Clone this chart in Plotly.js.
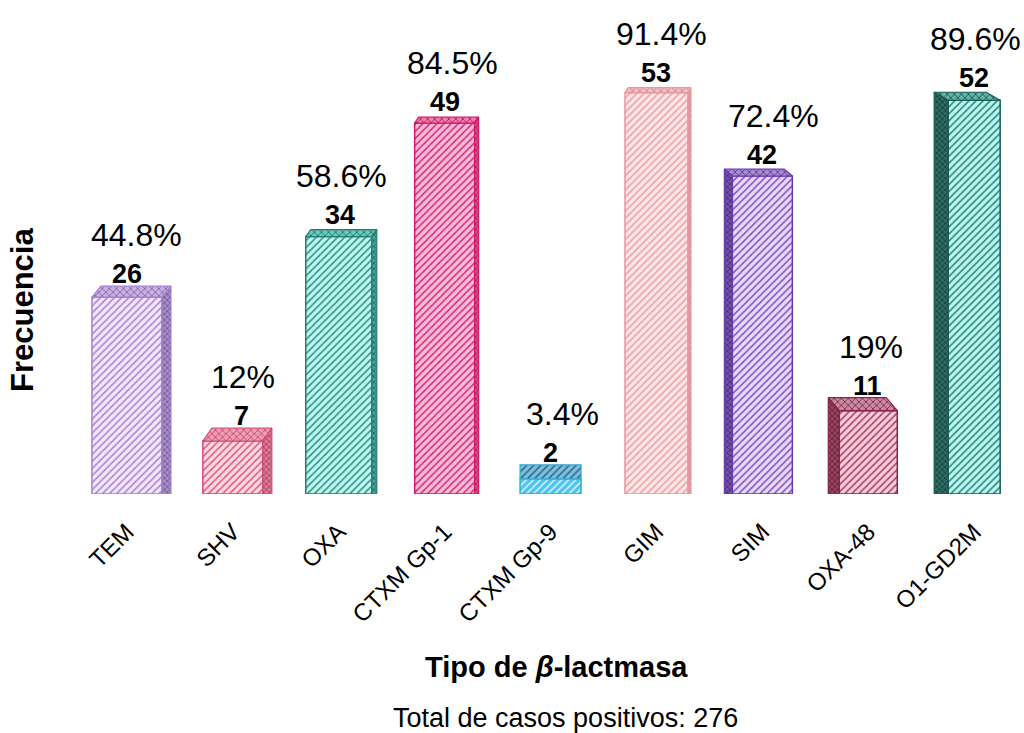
<!DOCTYPE html>
<html>
<head>
<meta charset="utf-8">
<script src="https://cdn.plot.ly/plotly-3.0.1.min.js"></script>
<style>html,body{margin:0;padding:0;background:#fff;}#chart{width:1024px;height:733px;}</style>
</head>
<body>
<div id="chart"></div>
<script>
// ---- data ----
const categories = ['TEM','SHV','OXA','CTXM Gp-1','CTXM Gp-9','GIM','SIM','OXA-48','O1-GD2M'];
const counts = [26, 7, 34, 49, 2, 53, 42, 11, 52];
const percentLabels = ['44.8%','12%','58.6%','84.5%','3.4%','91.4%','72.4%','19%','89.6%'];
const xTitle = 'Tipo de <i>β</i>-lactmasa';
const yTitle = 'Frecuencia';
const footnote = 'Total de casos positivos: 276';

// ---- style ----
const frontWidthPx = [70, 60, 66, 60, 61, 63, 60, 58, 52];
const depthDxPx   = [9, 9, 5, 4, 0, 3, -8, -11, -14];
const depthDyPx   = [11, 13, 7, 6, 14, 5, 7, 13, 8];
const pctShiftPx  = [9.5, 10.5, 2.5, 8, 12, 5.5, 11, 2.5, 1];
const cntShiftPx  = [0.5, 8.5, 1.5, 0, 0, -0.5, 0, -0.5, 0];
const frontBg  = ['#f3e6fb','#fdd9e3','#bff8ef','#fabdd9','#4cc6ef','#fde6e6','#e8d8fa','#f8ccdb','#bdf6ef'];
const frontFg  = ['#a883d3','#e0577f','#2b8f86','#d8287a','#d8f3fc','#ec9fa6','#7d52c2','#a53e65','#23857b'];
const lineCol  = ['#a47fd6','#d94a73','#237f75','#d41769','#3aa8d3','#e69aa3','#6b3aad','#8f2049','#185c55'];
const topBg    = ['#c9b0e3','#ec9fb3','#6cc8bd','#ea80ad','#7cc0db','#f2bcc0','#a98bd3','#c98aa0','#5fb3a8'];
const topFg    = ['#7f62a4','#c9446b','#1f6f66','#b8155d','#2c6888','#d4838c','#52308c','#7a2546','#16524b'];
const sideBg   = ['#a68fc4','#d97b97','#4aa397','#d9528b','#86c7df','#e9a3aa','#7052a8','#93445f','#2f6b63'];
const sideFg   = ['#6a4f8f','#a8375a','#17615a','#9f1250','#2f6f90','#c57880','#3e2470','#5f1a35','#0f3c37'];
const FONT = 'Liberation Sans, Arial, sans-serif';

const W = 1024, H = 733;
const M = {l: 74, r: 8, t: 20, b: 239};
const plotW = W - M.l - M.r, plotH = H - M.t - M.b;
const xRange = [-0.5, 8.395];
const yRange = [0, 62.6];
const PXX = plotW / (xRange[1] - xRange[0]);
const PXY = plotH / (yRange[1] - yRange[0]);
const xs = categories.map((c, i) => i);

const traces = [];
// front faces, one trace per bar so each keeps its own hatch colours
xs.forEach((c, i) => {
  traces.push({
    type: 'bar', x: [c], y: [counts[i]],
    width: [frontWidthPx[i] / PXX],
    marker: {
      color: frontBg[i],
      line: {color: lineCol[i], width: 1.5},
      pattern: {shape: '/', fgcolor: frontFg[i], bgcolor: frontBg[i], size: 5, solidity: 0.3, fillmode: 'replace'}
    },
    hoverinfo: 'skip', showlegend: false
  });
});

// top and side faces (3-D look), built from the counts
xs.forEach((c, i) => {
  const v = counts[i];
  const w = frontWidthPx[i] / PXX;
  const dx = depthDxPx[i] / PXX;
  const dy = depthDyPx[i] / PXY;
  const L = c - w / 2, R = c + w / 2;
  traces.push({
    type: 'scatter', mode: 'lines',
    x: [L, R, R + dx, L + dx, L], y: [v, v, v + dy, v + dy, v],
    fill: 'toself', fillcolor: topBg[i],
    fillpattern: {shape: i === 4 ? '/' : 'x', fgcolor: topFg[i], bgcolor: topBg[i], size: 5, solidity: 0.3},
    line: {color: lineCol[i], width: 1.2},
    hoverinfo: 'skip', showlegend: false
  });
  if (dx !== 0) {
    const e = dx > 0 ? R : L;
    traces.push({
      type: 'scatter', mode: 'lines',
      x: [e, e + dx, e + dx, e, e], y: [0, 0, v + dy, v, 0],
      fill: 'toself', fillcolor: sideBg[i],
      fillpattern: {shape: 'x', fgcolor: sideFg[i], bgcolor: sideBg[i], size: 4, solidity: 0.35},
      line: {color: lineCol[i], width: 1.2},
      hoverinfo: 'skip', showlegend: false
    });
  }
});

const annotations = [];
xs.forEach((c, i) => {
  const cShift = 17 + 0.6 * depthDyPx[i];
  annotations.push({
    x: c, y: counts[i], xref: 'x', yref: 'y', text: '<b>' + counts[i] + '</b>',
    showarrow: false, xanchor: 'center', yanchor: 'middle', xshift: cntShiftPx[i], yshift: cShift,
    font: {family: FONT, size: 27, color: '#000'}
  });
  annotations.push({
    x: c, y: counts[i], xref: 'x', yref: 'y', text: percentLabels[i],
    showarrow: false, xanchor: 'center', yanchor: 'middle', xshift: pctShiftPx[i], yshift: cShift + 39,
    font: {family: FONT, size: 32, color: '#000'}
  });
});
const toPX = X => (X - M.l) / plotW;
const toPY = Y => (M.t + plotH - Y) / plotH;
annotations.push({
  xref: 'paper', yref: 'paper', x: toPX(556), y: toPY(667), text: '<b>' + xTitle + '</b>',
  showarrow: false, xanchor: 'center', yanchor: 'middle',
  font: {family: FONT, size: 29, color: '#000'}
});
annotations.push({
  xref: 'paper', yref: 'paper', x: toPX(565), y: toPY(718), text: footnote,
  showarrow: false, xanchor: 'center', yanchor: 'middle',
  font: {family: FONT, size: 27, color: '#000'}
});
annotations.push({
  xref: 'paper', yref: 'paper', x: toPX(22), y: toPY(310), text: '<b>' + yTitle + '</b>',
  showarrow: false, xanchor: 'center', yanchor: 'middle', textangle: -90,
  font: {family: FONT, size: 31, color: '#000'}
});

const layout = {
  width: W, height: H, margin: M,
  paper_bgcolor: '#fff', plot_bgcolor: '#fff',
  showlegend: false, barmode: 'overlay', bargap: 0,
  font: {family: FONT, color: '#000'},
  xaxis: {
    range: xRange, tickmode: 'array', tickvals: xs, ticktext: categories,
    tickangle: -45, showgrid: false, zeroline: false, showline: false, ticks: '',
    ticklabelstandoff: 18,
    tickfont: {family: FONT, size: 24, color: '#000'}
  },
  yaxis: {range: yRange, visible: false, showgrid: false, zeroline: false},
  annotations: annotations
};

Plotly.newPlot('chart', traces, layout, {displayModeBar: false, staticPlot: true});
</script>
</body>
</html>
